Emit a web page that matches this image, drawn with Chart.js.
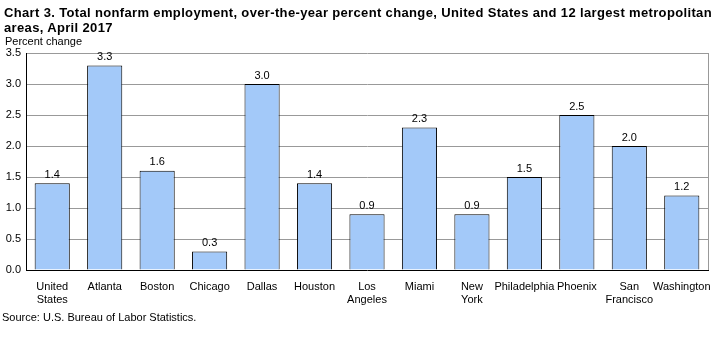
<!DOCTYPE html>
<html>
<head>
<meta charset="utf-8">
<script src="https://cdn.jsdelivr.net/npm/chart.js@4/dist/chart.umd.min.js"></script>
<style>
  html, body { margin: 0; padding: 0; background: #fff; }
  #wrap { position: relative; width: 727px; height: 340px; font-family: "Liberation Sans", Arial, sans-serif; }
  #title { position: absolute; left: 4px; top: 5px; font-size: 13px; font-weight: bold; line-height: 15px; letter-spacing: 0.35px; color: #000; white-space: nowrap; }
  #ylab { position: absolute; left: 5px; top: 35px; font-size: 11px; color: #000; }
  #source { position: absolute; left: 2px; top: 311px; font-size: 11px; color: #000; }
  canvas { position: absolute; left: 0; top: 0; }
</style>
</head>
<body>
<div id="wrap">
  <canvas id="c" width="727" height="340"></canvas>
  <div id="title">Chart 3. Total nonfarm employment, over-the-year percent change, United States and 12 largest metropolitan<br>areas, April 2017</div>
  <div id="ylab">Percent change</div>
  <div id="source">Source: U.S. Bureau of Labor Statistics.</div>
</div>
<script>
const categories = [
  ["United", "States"], "Atlanta", "Boston", "Chicago", "Dallas", "Houston",
  ["Los", "Angeles"], "Miami", ["New", "York"], "Philadelphia", "Phoenix",
  ["San", "Francisco"], "Washington"
];
const percentChange = [1.4, 3.3, 1.6, 0.3, 3.0, 1.4, 0.9, 2.3, 0.9, 1.5, 2.5, 2.0, 1.2];
const yTicks = [0, 0.5, 1.0, 1.5, 2.0, 2.5, 3.0, 3.5];

const FONT = "'Liberation Sans', Arial, sans-serif";

const valueLabels = {
  id: 'valueLabels',
  afterDatasetsDraw(chart) {
    const ctx = chart.ctx;
    const meta = chart.getDatasetMeta(0);
    ctx.save();
    ctx.font = "11px " + FONT;
    ctx.fillStyle = '#000';
    ctx.textAlign = 'center';
    ctx.textBaseline = 'bottom';
    meta.data.forEach((bar, i) => {
      ctx.fillText(percentChange[i].toFixed(1), bar.x, bar.y - 3);
    });
    ctx.restore();
  }
};

const frame = {
  id: 'frame',
  beforeDatasetsDraw(chart) {
    const a = chart.chartArea;
    const ctx = chart.ctx;
    ctx.save();
    ctx.strokeStyle = '#999999';
    ctx.lineWidth = 1;
    ctx.beginPath();
    ctx.moveTo(Math.round(a.right) + 0.5, a.top);
    ctx.lineTo(Math.round(a.right) + 0.5, a.bottom);
    ctx.stroke();
    ctx.restore();
  }
};

new Chart(document.getElementById('c'), {
  type: 'bar',
  data: {
    labels: categories,
    datasets: [{
      data: percentChange,
      backgroundColor: '#a3c9f9',
      borderColor: '#000000',
      borderWidth: 1,
      categoryPercentage: 0.67,
      barPercentage: 1.0
    }]
  },
  options: {
    responsive: false,
    animation: false,
    devicePixelRatio: 1,
    layout: { padding: { top: 53, left: 0, right: 19, bottom: 30 } },
    plugins: { legend: { display: false }, tooltip: { enabled: false }, title: { display: false } },
    scales: {
      x: {
        grid: { display: false },
        border: { display: true, color: '#000000', width: 1 },
        ticks: {
          color: '#000', font: { family: FONT, size: 11 }, maxRotation: 0, minRotation: 0,
          autoSkip: false, padding: 2
        },
        afterFit(scale) { scale.height = 40; }
      },
      y: {
        min: 0, max: 3.5,
        afterBuildTicks(scale) { scale.ticks = yTicks.map(v => ({ value: v })); },
        grid: {
          color: (c) => c.tick && c.tick.value === 0 ? 'rgba(0,0,0,0)' : '#999999',
          lineWidth: 1,
          drawTicks: false
        },
        border: { display: true, color: '#000000', width: 1 },
        ticks: {
          color: '#000', font: { family: FONT, size: 11 }, padding: 5,
          callback: (v) => Number(v).toFixed(1)
        },
        afterFit(scale) { scale.width = 26; }
      }
    }
  },
  plugins: [valueLabels, frame]
});
</script>
</body>
</html>
